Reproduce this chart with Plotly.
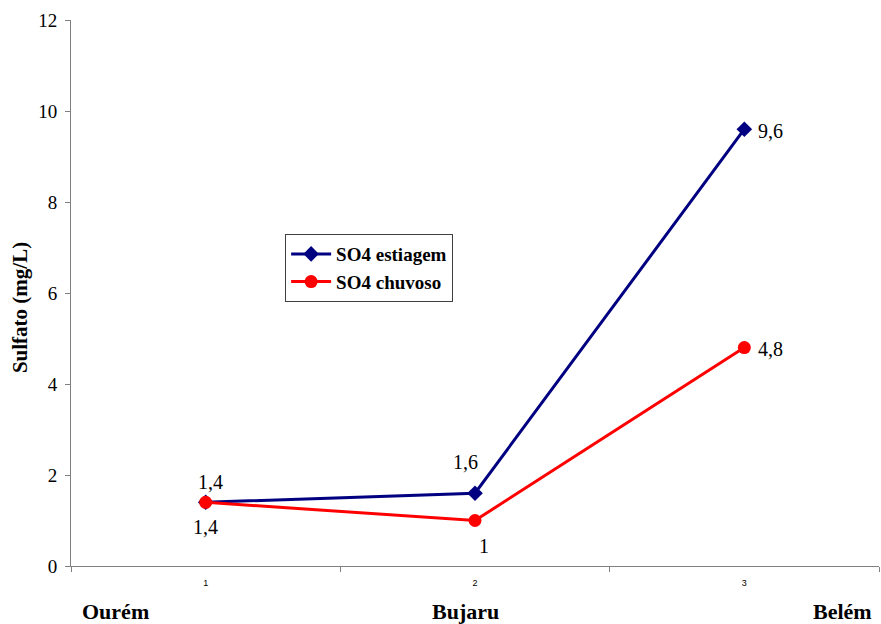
import plotly.graph_objects as go

# Sampling stations and sulfate concentrations (mg/L)
stations = ["Ourém", "Bujaru", "Belém"]
station_idx = [1, 2, 3]
so4_estiagem = [1.4, 1.6, 9.6]
so4_chuvoso = [1.4, 1.0, 4.8]
y_ticks = [0, 2, 4, 6, 8, 10, 12]


def fmt(v):
    return f"{v:g}".replace(".", ",")


serif = "Liberation Serif, Times New Roman, serif"

fig = go.Figure()
fig.add_trace(go.Scatter(
    x=station_idx, y=so4_estiagem, name="<b>SO4 estiagem</b>",
    mode="lines+markers",
    line=dict(color="#000080", width=3),
    marker=dict(symbol="diamond", size=12, color="#000080"),
))
fig.add_trace(go.Scatter(
    x=station_idx, y=so4_chuvoso, name="<b>SO4 chuvoso</b>",
    mode="lines+markers",
    line=dict(color="#ff0000", width=3),
    marker=dict(symbol="circle", size=13, color="#ff0000"),
))

# Value labels placed next to each point (pixel offsets)
est_shift = [(5, 20), (-10, 31), (26, -2)]
chu_shift = [(0, -25), (9, -25), (26, -1)]
for xs, ys, shifts in ((station_idx, so4_estiagem, est_shift),
                       (station_idx, so4_chuvoso, chu_shift)):
    for xv, yv, (dx, dy) in zip(xs, ys, shifts):
        fig.add_annotation(
            x=xv, y=yv, xref="x", yref="y", text=fmt(yv),
            showarrow=False, xshift=dx, yshift=dy,
            xanchor="center", yanchor="middle",
            font=dict(family=serif, size=20, color="black"),
        )

# Station names below the axis
name_x = [0.055, 0.488, 0.955]
for nm, px in zip(stations, name_x):
    fig.add_annotation(
        text=f"<b>{nm}</b>", x=px, xref="paper", y=-0.083, yref="paper",
        yanchor="middle", xanchor="center", showarrow=False,
        font=dict(family=serif, size=22, color="black"),
    )

# Vertical axis title
fig.add_annotation(
    text="<b>Sulfato (mg/L)</b>", x=-0.063, xref="paper", y=0.4725,
    yref="paper", textangle=-90, showarrow=False,
    xanchor="center", yanchor="middle",
    font=dict(family=serif, size=21, color="black"),
)

fig.update_layout(
    width=881, height=624,
    margin=dict(l=71, r=2, t=20, b=58),
    plot_bgcolor="white", paper_bgcolor="white",
    showlegend=True,
    legend=dict(
        x=0.265, y=0.608, xanchor="left", yanchor="top",
        bordercolor="#404040", borderwidth=1, bgcolor="white",
        font=dict(family=serif, size=19, color="black"),
        tracegroupgap=0, itemwidth=40,
    ),
    xaxis=dict(
        range=[0.5, 3.5], tickvals=station_idx,
        ticktext=[str(i) for i in station_idx],
        ticks="", showgrid=False, zeroline=False,
        showline=True, linecolor="#808080", linewidth=1,
        ticklabelstandoff=8,
        tickfont=dict(family="Liberation Sans, Arial, sans-serif", size=9, color="black"),
        minor=dict(tickvals=[0.5, 1.5, 2.5, 3.5], ticks="outside",
                   ticklen=5, tickcolor="#808080", showgrid=False),
    ),
    yaxis=dict(
        range=[0, 12], tickvals=y_ticks, ticks="outside", ticklen=5,
        tickcolor="#808080", showgrid=False, zeroline=False,
        showline=True, linecolor="#808080", linewidth=1,
        ticklabelstandoff=4,
        tickfont=dict(family=serif, size=19, color="black"),
    ),
)

fig.write_html("out.html")
